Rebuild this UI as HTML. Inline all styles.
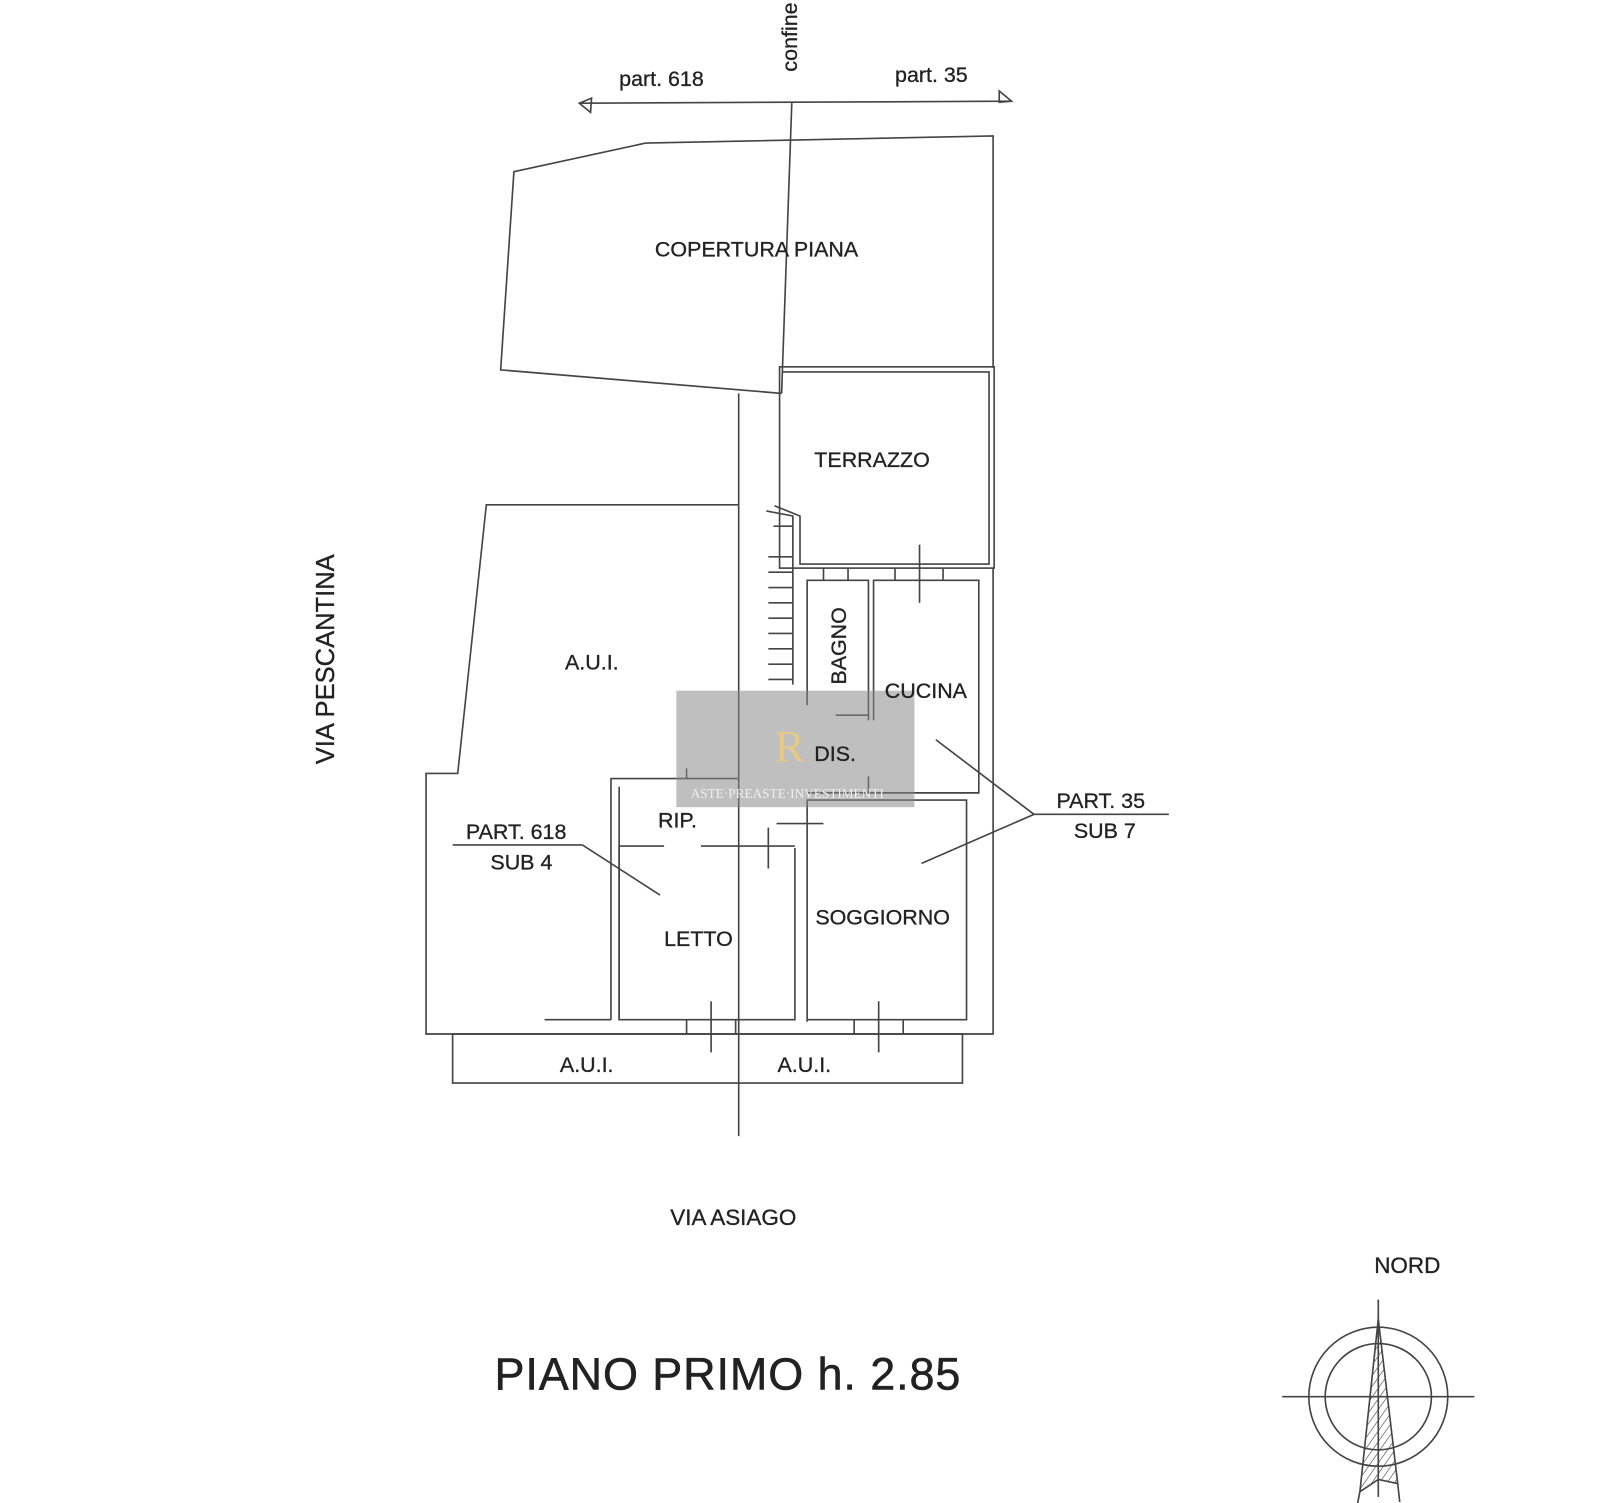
<!DOCTYPE html>
<html><head><meta charset="utf-8"><style>
html,body{margin:0;padding:0;background:#fff;}
svg{display:block}
text{font-family:"Liberation Sans",sans-serif;fill:#222;}
</style></head><body>
<svg width="1600" height="1503" viewBox="0 0 1566 1471" xmlns="http://www.w3.org/2000/svg">
<defs><pattern id="h" width="6" height="6" patternUnits="userSpaceOnUse" patternTransform="rotate(35)"><line x1="0" y1="0" x2="0" y2="6" stroke="#444" stroke-width="1.2"/></pattern></defs>
<g stroke="#444" stroke-width="1.6" fill="none">
<line x1="567" y1="101" x2="990" y2="99"/>
<polygon points="567,101 579,96 578,110" />
<polygon points="990,99 978,89 978,100"/>
<line x1="775" y1="100" x2="765" y2="385"/>
<line x1="723" y1="385" x2="723" y2="1112"/>
<polyline points="765,385 490,362 503,168 632,140 972,133 972,360"/>
<rect x="763" y="359" width="210" height="197"/>
<polyline points="766,364 968,364 968,552 783,552 783,505 758,495"/>
<polyline points="723,494 476,494 448,757 417,757 417,1012 972,1012 972,556"/>
<rect x="443" y="1012" width="499" height="48"/>
<polyline points="750,500 776,505 776,670"/>
<line x1="757" y1="515" x2="776" y2="515"/>
<line x1="752" y1="545" x2="776" y2="545"/>
<line x1="752" y1="560" x2="776" y2="560"/>
<line x1="752" y1="575" x2="776" y2="575"/>
<line x1="752" y1="590" x2="776" y2="590"/>
<line x1="752" y1="605" x2="776" y2="605"/>
<line x1="752" y1="620" x2="776" y2="620"/>
<line x1="752" y1="635" x2="776" y2="635"/>
<line x1="752" y1="650" x2="776" y2="650"/>
<line x1="752" y1="665" x2="776" y2="665"/>
<polyline points="790,690 790,568 850,568 850,705"/>
<line x1="806" y1="556" x2="806" y2="568"/><line x1="830" y1="556" x2="830" y2="568"/>
<polyline points="855,705 855,568 958,568 958,776 790,776"/>
<line x1="876" y1="556" x2="876" y2="568"/><line x1="923" y1="556" x2="923" y2="568"/>
<line x1="900" y1="533" x2="900" y2="590"/>
<line x1="818" y1="700" x2="850" y2="700"/>
<line x1="850" y1="760" x2="850" y2="776"/>
<polyline points="790,1000 790,783 946,783 946,998 790,998"/>
<line x1="836" y1="998" x2="836" y2="1012"/><line x1="884" y1="998" x2="884" y2="1012"/>
<line x1="860" y1="980" x2="860" y2="1030"/>
<line x1="760" y1="806" x2="806" y2="806"/>
<polyline points="598,998 598,762 723,762"/>
<polyline points="606,998 606,828 650,828"/>
<line x1="686" y1="828" x2="778" y2="828"/>
<polyline points="606,770 606,998 778,998 778,830"/>
<line x1="533" y1="998" x2="598" y2="998"/>
<line x1="672" y1="998" x2="672" y2="1012"/><line x1="720" y1="998" x2="720" y2="1012"/>
<line x1="696" y1="980" x2="696" y2="1030"/>
<line x1="752" y1="810" x2="752" y2="850"/>
<line x1="672" y1="752" x2="672" y2="762"/>
<line x1="443" y1="827" x2="570" y2="827"/>
<line x1="570" y1="827" x2="646" y2="876"/>
<line x1="1012" y1="797" x2="1144" y2="797"/>
<line x1="1012" y1="797" x2="916" y2="724"/>
<line x1="1012" y1="797" x2="902" y2="845"/>
<circle cx="1349" cy="1367" r="68"/>
<circle cx="1349" cy="1367" r="52"/>
<line x1="1255" y1="1367" x2="1443" y2="1367"/>
<line x1="1349" y1="1272" x2="1349" y2="1465"/>
<polygon points="1349,1291 1331,1460 1349,1448 1368,1452" fill="url(#h)"/>
<line x1="1331" y1="1460" x2="1328" y2="1475"/>
<line x1="1368" y1="1452" x2="1370" y2="1470"/>
</g>
<rect x="662" y="676" width="233" height="114" fill="#8a8a8a" opacity="0.55"/>
<text x="676" y="781" font-size="13" style="fill:#eee;font-family:'Liberation Serif',serif">ASTE·PREASTE·INVESTIMENTI</text>
<text x="758" y="745" font-size="44" style="fill:#e6c987;font-family:'Liberation Serif',serif">R</text>
<g font-size="21" stroke="#222" stroke-width="0.3">
<text x="606" y="84">part. 618</text>
<text x="876" y="80">part. 35</text>
<text x="780" y="70" transform="rotate(-90 780 70)">confine</text>
<text x="641" y="251">COPERTURA PIANA</text>
<text x="797" y="457">TERRAZZO</text>
<text x="553" y="655">A.U.I.</text>
<text x="828" y="670" transform="rotate(-90 828 670)">BAGNO</text>
<text x="866" y="683">CUCINA</text>
<text x="797" y="745">DIS.</text>
<text x="644" y="810">RIP.</text>
<text x="456" y="821">PART. 618</text>
<text x="480" y="851">SUB 4</text>
<text x="1034" y="791">PART. 35</text>
<text x="1051" y="820">SUB 7</text>
<text x="650" y="926">LETTO</text>
<text x="798" y="905">SOGGIORNO</text>
<text x="548" y="1049">A.U.I.</text>
<text x="761" y="1049">A.U.I.</text>
<text x="656" y="1199" font-size="22">VIA ASIAGO</text>
<text x="1345" y="1246" font-size="22">NORD</text>
<text x="327" y="748" font-size="25" transform="rotate(-90 327 748)">VIA PESCANTINA</text>
</g>
<text x="484" y="1360" font-size="44" stroke="#222" stroke-width="0.5" textLength="456">PIANO PRIMO h. 2.85</text>
</svg>
</body></html>
